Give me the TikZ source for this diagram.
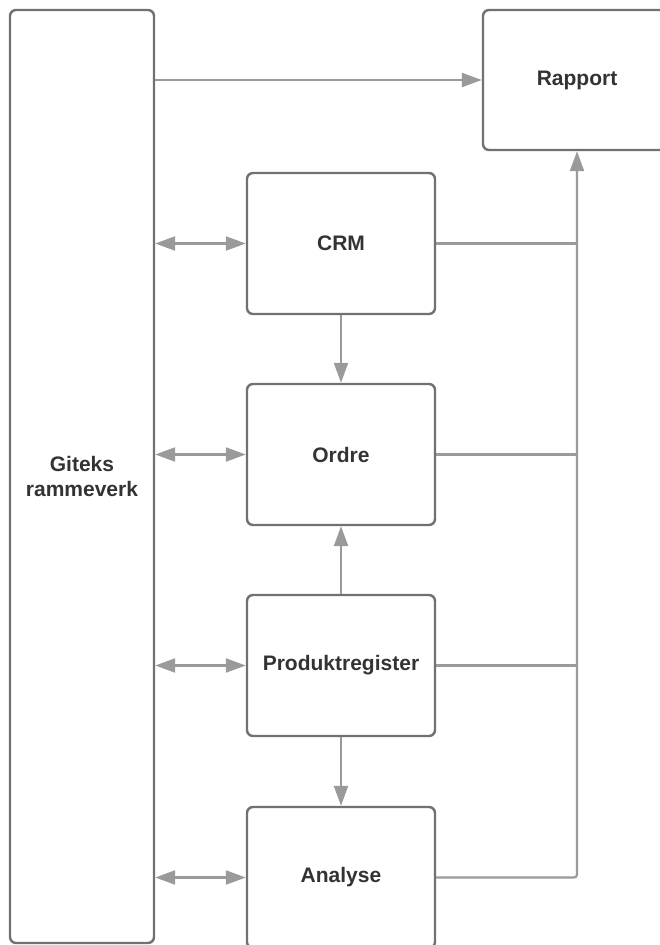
\documentclass[tikz,border=0pt]{standalone}
\usepackage{fontspec}
\setmainfont{Liberation Sans}
\usepackage{xcolor}
\usetikzlibrary{arrows.meta,positioning,calc}
\definecolor{frame}{HTML}{717171}
\definecolor{wire}{HTML}{9A9A9A}
\definecolor{ink}{HTML}{333333}

\begin{document}
\begin{tikzpicture}[
  x=1pt,y=1pt,
  node distance=67.6pt,
  box/.style={draw=frame,line width=2.4pt,rounded corners=6pt,fill=white,align=center,minimum width=188pt,minimum height=141pt,font=\fontsize{21}{25}\selectfont\bfseries,text=ink},
  arr/.style={-{Triangle[length=20pt,width=14pt]},line width=2.2pt,draw=wire,color=wire},
  both/.style={{Triangle[length=20pt,width=14pt]}-{Triangle[length=20pt,width=14pt]},line width=2.2pt,draw=wire,color=wire},
  wireline/.style={line width=2.2pt,draw=wire}
]
\useasboundingbox[fill=white] (0,0) rectangle (660,-945);
\node[box,minimum width=144pt,minimum height=933pt] (gitek) at (82,-476.5) {Giteks\\rammeverk};
\node[box,minimum height=140pt] (rapport) at (577,-80) {Rapport};
\node[box] (crm) at (341,-243.5) {CRM};
\node[box,below=of crm] (ordre) {Ordre};
\node[box,below=of ordre] (prod) {Produktregister};
\node[box,below=68.6pt of prod] (analyse) {Analyse};
% connections to the framework
\draw[arr] (rapport.west -| gitek.east) -- (rapport.west);
\foreach \b in {crm,ordre,prod,analyse} {\draw[both] (\b.west -| gitek.east) -- (\b.west);}
% flow between the modules
\draw[arr] (crm) -- (ordre);
\draw[arr] (prod) -- (ordre);
\draw[arr] (prod) -- (analyse);
% collector line up to the report
\foreach \b in {crm,ordre,prod} {\draw[wireline] (\b.east) -- (\b.east -| rapport.south);}
\draw[arr,rounded corners=3pt] (analyse.east) -| (rapport.south);
\end{tikzpicture}
\end{document}
